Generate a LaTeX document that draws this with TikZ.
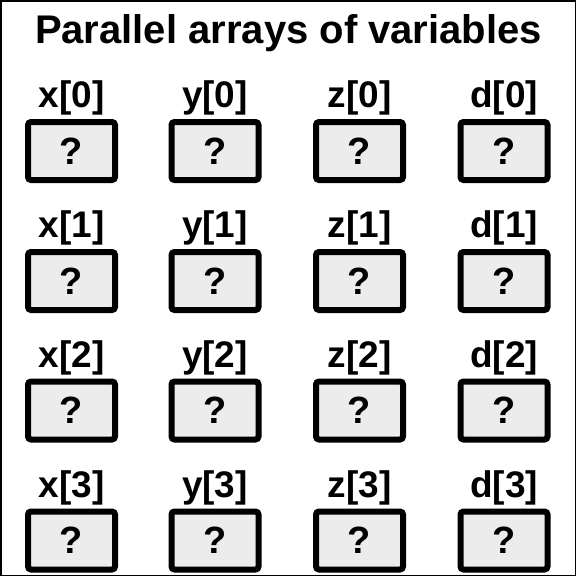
\documentclass[tikz,border=0pt]{standalone}
\usepackage{fontspec}
\setmainfont{Liberation Sans}
\definecolor{boxfill}{RGB}{236,236,236}
\begin{document}
\begin{tikzpicture}[x=1pt,y=-1pt,
  varbox/.style={draw=black, line width=6pt, fill=boxfill, rounded corners=3pt,
    minimum width=87pt, minimum height=58pt, inner sep=0pt,
    font=\fontsize{38}{42}\bfseries\selectfont},
  varlabel/.style={anchor=base, inner sep=0pt, font=\fontsize{37}{41}\bfseries\selectfont},
  titletext/.style={anchor=base, inner sep=0pt, font=\fontsize{40}{44}\bfseries\selectfont}]
\useasboundingbox (0,0) rectangle (576,576);
\fill[white] (0,0) rectangle (576,576);
\draw[line width=1.5pt] (0.75,0.75) rectangle (575.25,575.25);
\node[titletext] (title) at (288.5,43.4) {Parallel arrays of variables};
\foreach \v/\cx in {x/71.5, y/215, z/359.5, d/504}{
  \foreach \r/\cy in {0/151, 1/281, 2/410.5, 3/540.5}{
    \node[varlabel] (l\v\r) at (\cx,\cy-43.5) {\v[\r]};
    \node[varbox] (b\v\r) at (\cx,\cy) {?};
  }
}
\end{tikzpicture}
\end{document}
